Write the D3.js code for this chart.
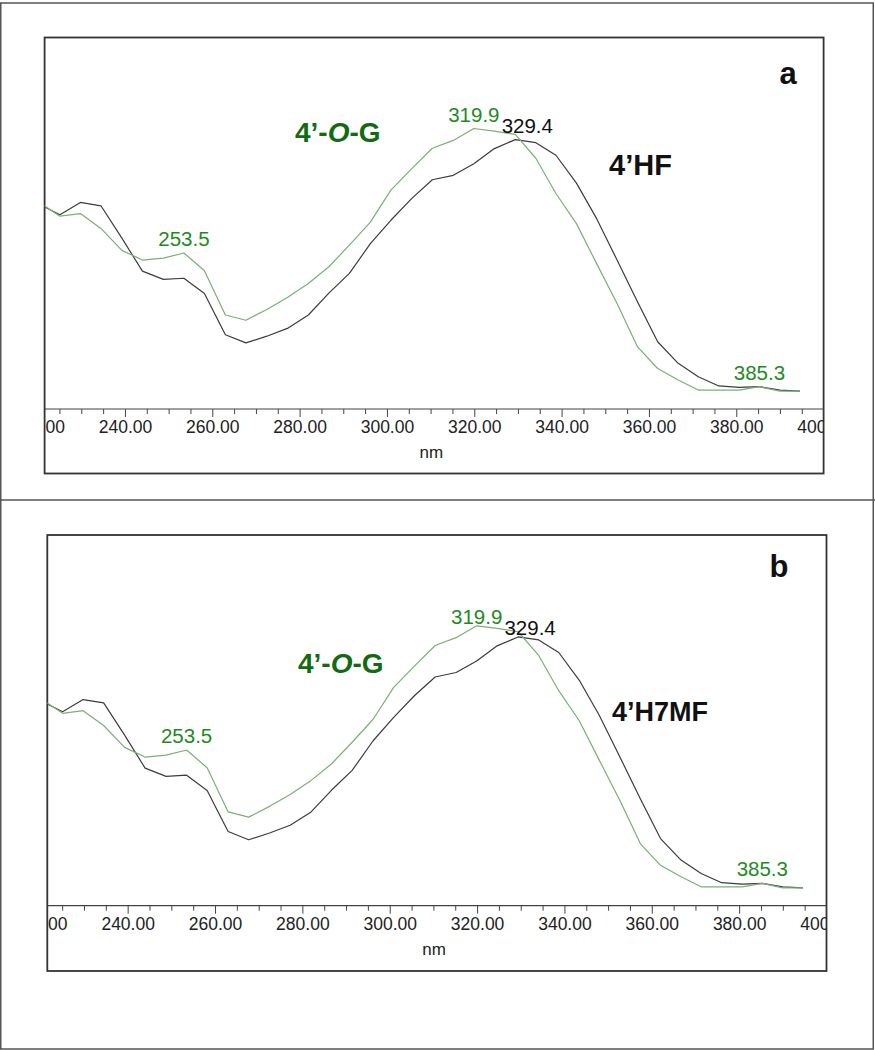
<!DOCTYPE html>
<html>
<head>
<meta charset="utf-8">
<script src="https://cdn.jsdelivr.net/npm/d3@7"></script>
<style>
  html, body { margin: 0; padding: 0; background: #fff; }
  svg { display: block; }
  text { font-family: "Liberation Sans", Arial, Helvetica, sans-serif; }
</style>
</head>
<body>
<svg id="chart" width="875" height="1050"></svg>
<script>
// ---------- data ----------
const wavelengths = [220.4, 225.1, 229.8, 234.5, 239.3, 244.0, 248.8, 253.5, 258.2, 263.0,
  267.7, 272.5, 277.2, 282.0, 286.7, 291.4, 296.2, 300.9, 305.7, 310.4,
  315.2, 319.9, 324.6, 329.4, 334.1, 338.7, 343.4, 348.0, 352.7, 357.4,
  362.0, 366.7, 371.3, 376.0, 380.7, 385.3, 390.0, 394.6];

const absAglycone = [0.551, 0.523, 0.556, 0.547, 0.460, 0.371, 0.349, 0.352, 0.311, 0.200,
  0.178, 0.196, 0.217, 0.253, 0.312, 0.365, 0.445, 0.508, 0.567, 0.617,
  0.629, 0.660, 0.701, 0.725, 0.717, 0.683, 0.608, 0.513, 0.401, 0.288,
  0.181, 0.123, 0.087, 0.062, 0.058, 0.060, 0.051, 0.048];

const absGlucoside = [0.556, 0.519, 0.526, 0.486, 0.427, 0.401, 0.406, 0.420, 0.372, 0.253,
  0.239, 0.268, 0.300, 0.338, 0.383, 0.441, 0.503, 0.589, 0.647, 0.702,
  0.723, 0.755, 0.748, 0.739, 0.675, 0.580, 0.499, 0.392, 0.284, 0.167,
  0.109, 0.078, 0.051, 0.051, 0.051, 0.060, 0.048, 0.048];

const panelLetters = ["a", "b"];
const aglyconeNames = ["4\u2019HF", "4\u2019H7MF"];
const peakLabelsGreen = [253.5, 319.9, 385.3];
const peakLabelsBlack = [329.4];
const majorTicks = [220, 240, 260, 280, 300, 320, 340, 360, 380, 400];
const minorTicks = [225, 230, 235, 245, 250, 255, 265, 270, 275, 285, 290, 295, 305, 310, 315,
  325, 330, 335, 345, 350, 355, 365, 370, 375, 385, 390, 395];
const xDomain = [221.6, 400];
const xLabel = "nm";

// ---------- layout ----------
const svg = d3.select("#chart");
const GREEN_LINE = "#78b078", BLACK_LINE = "#3c3c3c";
const GREEN_TEXT = "#1f8a1f", GREEN_BOLD = "#136a13";

// outer frame
svg.append("rect").attr("x", 0.75).attr("y", 3).attr("width", 872.5).attr("height", 1046)
  .attr("fill", "none").attr("stroke", "#555").attr("stroke-width", 1.5);
svg.append("line").attr("x1", 0).attr("x2", 875).attr("y1", 500).attr("y2", 500)
  .attr("stroke", "#555").attr("stroke-width", 1.5);

const panels = [
  { left: 44.6, right: 823.6, top: 37.5, axisY: 409, bottom: 473.5,
    letterX: 788, letterY: 84, nameX: 609, nameY: 175, nameSize: 29, ogX: 295, ogY: 142,
    peakDy: -7 },
  { left: 47.3, right: 826.5, top: 535, axisY: 905.7, bottom: 971,
    letterX: 779, letterY: 577, nameX: 612, nameY: 721, nameSize: 27, ogX: 298, ogY: 673,
    peakDy: -2 }
];

const lookup = (arr, wl) => arr[wavelengths.indexOf(wl)];

panels.forEach((p, i) => {
  const g = svg.append("g");
  const x = d3.scaleLinear().domain(xDomain).range([p.left, p.right]);
  const y = d3.scaleLinear().domain([0, 1]).range([p.axisY, p.top]);

  const clipId = "clip" + i;
  g.append("clipPath").attr("id", clipId).append("rect")
    .attr("x", p.left).attr("y", p.top).attr("width", p.right - p.left).attr("height", p.bottom - p.top);

  // box
  g.append("rect").attr("x", p.left).attr("y", p.top)
    .attr("width", p.right - p.left).attr("height", p.bottom - p.top)
    .attr("fill", "none").attr("stroke", "#333").attr("stroke-width", 1.8);

  // axis
  const axG = g.append("g").attr("clip-path", `url(#${clipId})`);
  const minorAxis = d3.axisBottom(x).tickValues(minorTicks).tickSize(5).tickFormat("");
  const majorAxis = d3.axisBottom(x).tickValues(majorTicks).tickSize(8).tickPadding(4)
    .tickFormat(d3.format(".2f"));
  const a1 = axG.append("g").attr("transform", `translate(0,${p.axisY})`).call(minorAxis);
  const a2 = axG.append("g").attr("transform", `translate(0,${p.axisY})`).call(majorAxis);
  [a1, a2].forEach(a => {
    a.select(".domain").remove();
    a.selectAll(".tick line").attr("stroke", "#444").attr("stroke-width", 1);
  });
  a2.selectAll(".tick text").attr("font-size", 17.5).attr("fill", "#222")
    .style("font-family", "'Liberation Sans', Arial, sans-serif");
  g.append("line").attr("x1", p.left).attr("x2", p.right).attr("y1", p.axisY).attr("y2", p.axisY)
    .attr("stroke", "#444").attr("stroke-width", 1.2);
  g.append("text").attr("x", x(320) - 43).attr("y", p.axisY + 49).attr("text-anchor", "middle")
    .attr("font-size", 17).attr("fill", "#222").text(xLabel);

  // curves
  const line = d3.line().x((d, j) => x(wavelengths[j])).y(d => y(d));
  const cg = g.append("g").attr("clip-path", `url(#${clipId})`);
  cg.append("path").datum(absAglycone).attr("d", line).attr("fill", "none")
    .attr("stroke", BLACK_LINE).attr("stroke-width", 1.2).attr("stroke-linejoin", "round");
  cg.append("path").datum(absGlucoside).attr("d", line).attr("fill", "none")
    .attr("stroke", GREEN_LINE).attr("stroke-width", 1.2).attr("stroke-linejoin", "round");

  // peak labels
  peakLabelsGreen.forEach(wl => {
    const isMax = wl === 319.9;
    g.append("text").attr("x", x(wl)).attr("y", y(lookup(absGlucoside, wl)) + (isMax ? p.peakDy : -7))
      .attr("text-anchor", "middle").attr("font-size", 20.5).attr("fill", GREEN_TEXT)
      .text(d3.format(".1f")(wl));
  });
  peakLabelsBlack.forEach(wl => {
    g.append("text").attr("x", x(wl) + 12).attr("y", y(lookup(absAglycone, wl)) + p.peakDy)
      .attr("text-anchor", "middle").attr("font-size", 20.5).attr("fill", "#111")
      .text(d3.format(".1f")(wl));
  });

  // compound names
  const og = g.append("text").attr("x", p.ogX).attr("y", p.ogY).attr("font-size", 28)
    .attr("font-weight", "bold").attr("fill", GREEN_BOLD);
  og.append("tspan").text("4\u2019-");
  og.append("tspan").attr("font-style", "italic").text("O");
  og.append("tspan").text("-G");

  g.append("text").attr("x", p.nameX).attr("y", p.nameY).attr("font-size", p.nameSize)
    .attr("font-weight", "bold").attr("fill", "#111").text(aglyconeNames[i]);

  g.append("text").attr("x", p.letterX).attr("y", p.letterY).attr("text-anchor", "middle")
    .attr("font-size", 31).attr("font-weight", "bold").attr("fill", "#111").text(panelLetters[i]);
});
</script>
</body>
</html>
